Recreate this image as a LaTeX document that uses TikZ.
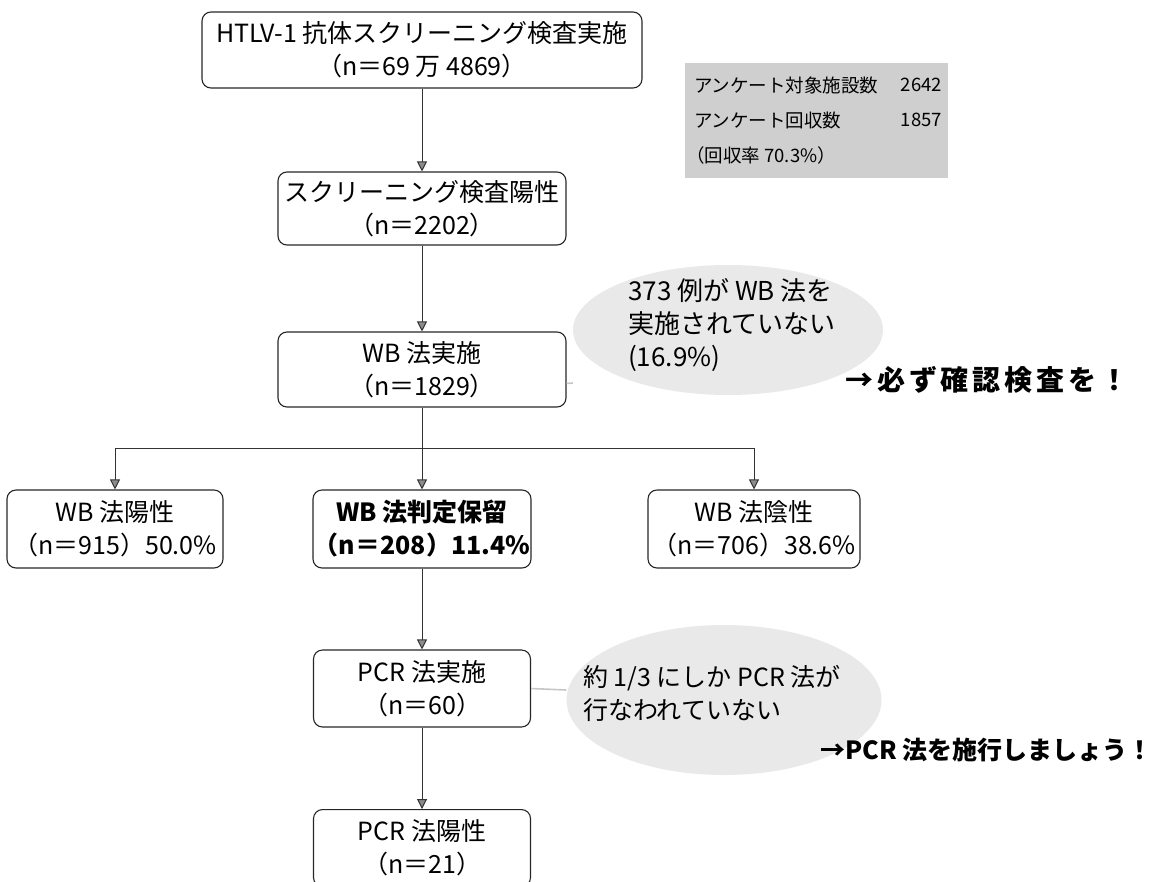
\documentclass[tikz,border=0pt]{standalone}
\usepackage{fontspec}
\setmainfont{Noto Sans CJK JP}
\usetikzlibrary{arrows.meta,shapes.geometric}
\begin{document}
\begin{tikzpicture}[x=1pt,y=-1pt,
  box/.style={draw=black!85, line width=1.1pt, rounded corners=9pt, inner sep=0pt,
    align=center, font=\fontsize{25}{33}\selectfont},
  flow/.style={draw=black!80, line width=1pt,
    -{Triangle[width=10pt,length=10pt,fill=black!45]}},
  blob/.style={ellipse, fill=gray!17, draw=none, inner sep=0pt},
  leader/.style={draw=gray!45, line width=1.6pt},
  note/.style={anchor=west, align=left, inner sep=0pt, font=\fontsize{26}{33}\selectfont},
  call/.style={anchor=west, inner sep=0pt, font=\bfseries\fontsize{25}{30}\selectfont},
  survey/.style={fill=gray!38, draw=none, inner sep=0pt},
  stxt/.style={inner sep=0pt, font=\fontsize{18.5}{26}\selectfont}
]
\useasboundingbox (0,0) rectangle (1155,881);
\clip (0,0) rectangle (1155,881);

% boxes
\node[box, minimum width=440pt, minimum height=76pt] (b1) at (422,50)
  {HTLV-1 抗体スクリーニング検査実施\\（n＝69 万 4869）};
\node[box, minimum width=288pt, minimum height=73pt] (b2) at (422,208.5)
  {スクリーニング検査陽性\\（n＝2202）};
\node[box, minimum width=288pt, minimum height=75pt] (b3) at (422,369.5)
  {WB 法実施\\（n＝1829）};
\node[box, minimum width=216pt, minimum height=78pt] (b4) at (115,529)
  {WB 法陽性\\（n＝915）50.0\%};
\node[box, minimum width=218pt, minimum height=78pt, font=\bfseries\fontsize{25}{33}\selectfont] (b5) at (422,529)
  {WB 法判定保留\\（n＝208）11.4\%};
\node[box, minimum width=212pt, minimum height=78pt] (b6) at (754,529)
  {WB 法陰性\\（n＝706）38.6\%};
\node[box, minimum width=217pt, minimum height=77pt] (b7) at (422,688.5)
  {PCR 法実施\\（n＝60）};
\node[box, minimum width=217pt, minimum height=77pt, anchor=north] (b8) at (422,809)
  {PCR 法陽性\\（n＝21）};

% connectors
\coordinate (split) at (422,448);
\draw[flow] (b1) -- (b2);
\draw[flow] (b2) -- (b3);
\draw[flow] (b3) -- (b5);
\draw[flow] (split) -| (b4.north);
\draw[flow] (split) -| (b6.north);
\draw[flow] (b5) -- (b7);
\draw[flow] (b7) -- (b8);

% survey box
\node[survey, minimum width=263pt, minimum height=115pt] (sv) at (816.5,120.5) {};
\node[stxt, anchor=west] (s1) at (694,85) {アンケート対象施設数};
\node[stxt, anchor=east] (s1n) at (942,85) {2642};
\node[stxt, anchor=west] (s2) at (694,120) {アンケート回収数};
\node[stxt, anchor=east] (s2n) at (942,120) {1857};
\node[stxt, anchor=west] (s3) at (686,155) {（回収率 70.3\%）};

% callout 1
\node[blob, minimum width=310pt, minimum height=130pt] (e1) at (728,330) {};
\draw[leader] ([yshift=-14pt]b3.east) -- (e1.west |- 0,383);
\node[note] (t1) at (628,325) {373 例が WB 法を\\実施されていない\\(16.9\%)};
\node[call, font=\bfseries\fontsize{28}{30}\selectfont\addfontfeature{LetterSpace=14}] (c1) at (845,380) {→必ず確認検査を！};

% callout 2
\node[blob, minimum width=315pt, minimum height=150pt] (e2) at (724,700) {};
\draw[leader] (b7.east) -- (e2.west |- 0,690);
\node[note, font=\fontsize{25}{33}\selectfont] (t2) at (583,693) {約 1/3 にしか PCR 法が\\行なわれていない};
\node[call] (c2) at (820,750) {→PCR 法を施行しましょう！};
\end{tikzpicture}
\end{document}
